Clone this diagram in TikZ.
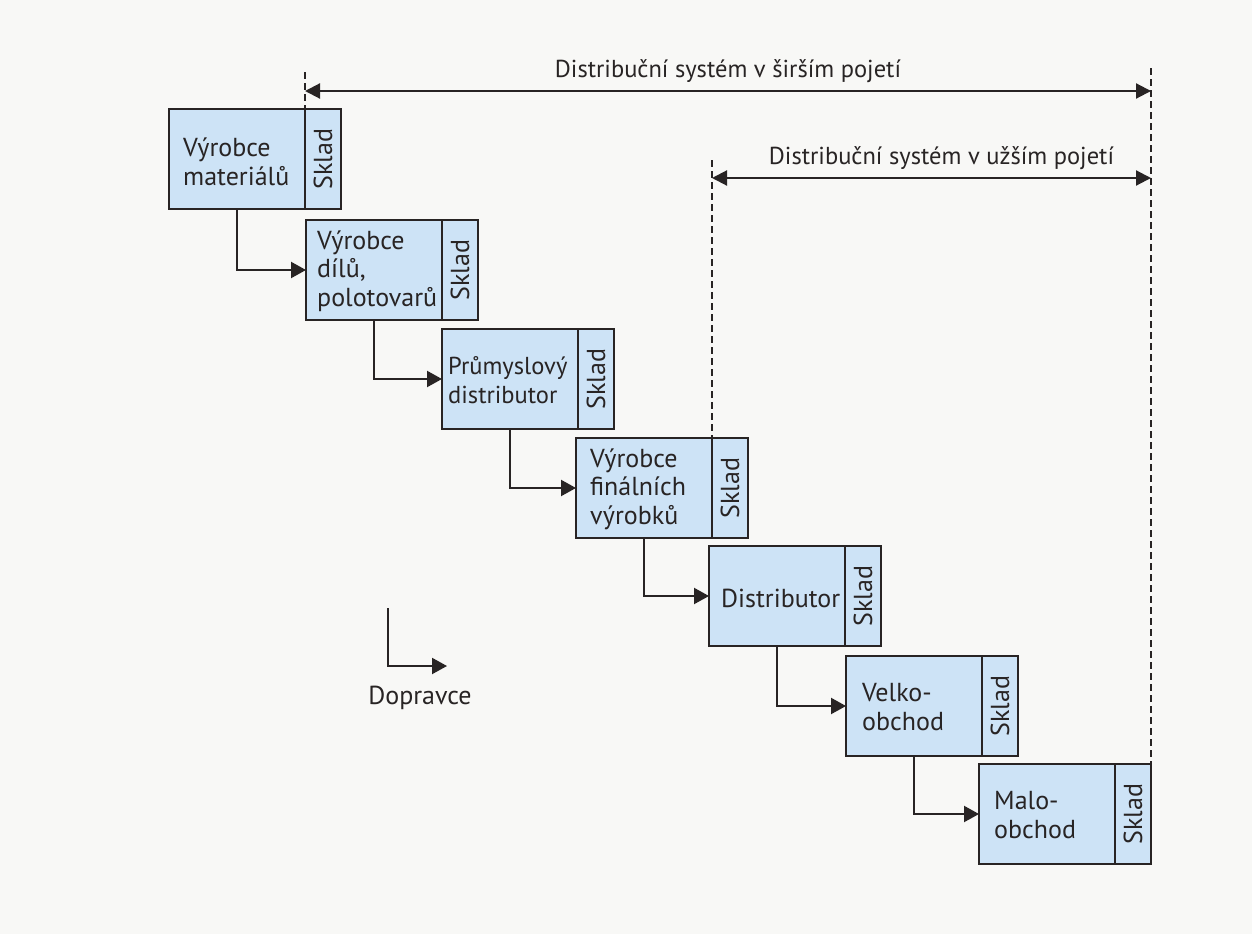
\documentclass[tikz,border=0pt]{standalone}
\usepackage{fontspec}
\setmainfont{PT Sans}
\usetikzlibrary{arrows.meta,calc}
\definecolor{boxfill}{RGB}{205,227,246}
\definecolor{ink}{RGB}{40,36,36}
\definecolor{bg}{RGB}{248,248,246}
\begin{document}
\begin{tikzpicture}[x=1pt,y=-1pt,
  stagebox/.style={draw=ink,line width=2.6pt,fill=boxfill,minimum width=136pt,minimum height=100pt,inner sep=0pt,anchor=north west,outer sep=0pt},
  skladbox/.style={draw=ink,line width=2.6pt,fill=boxfill,minimum width=36pt,minimum height=100pt,inner sep=0pt,anchor=north west,outer sep=0pt},
  stagetext/.style={align=left,font=\fontsize{26}{28.5}\selectfont,inner sep=0pt,text=ink,anchor=west},
  skladtext/.style={rotate=90,font=\fontsize{26}{28}\selectfont,inner sep=0pt,text=ink},
  conn/.style={draw=ink,line width=2.1pt,-{Triangle[length=15pt,width=16pt]}},
  dimline/.style={draw=ink,line width=2.1pt,{Triangle[length=15pt,width=15pt]}-{Triangle[length=15pt,width=15pt]}},
  guide/.style={draw=ink,line width=1.3pt,dash pattern=on 7pt off 4pt},
  toptext/.style={font=\fontsize{24.5}{28}\selectfont,inner sep=0pt,text=ink,anchor=south}
]
\fill[bg] (0,0) rectangle (1252,934);
\useasboundingbox (0,0) rectangle (1252,934);

% stages
\node[stagebox] (m1) at (169,109) {};
\node[skladbox] (s1) at (m1.north east) {};
\node[stagebox] (m2) at (306,220) {};
\node[skladbox] (s2) at (m2.north east) {};
\node[stagebox] (m3) at (442,329) {};
\node[skladbox] (s3) at (m3.north east) {};
\node[stagebox] (m4) at (576,438) {};
\node[skladbox] (s4) at (m4.north east) {};
\node[stagebox] (m5) at (709,546) {};
\node[skladbox] (s5) at (m5.north east) {};
\node[stagebox] (m6) at (846,656) {};
\node[skladbox] (s6) at (m6.north east) {};
\node[stagebox] (m7) at (979,764) {};
\node[skladbox] (s7) at (m7.north east) {};

\node[stagetext] at ($(m1.west)+(14,3)$) {Výrobce\\materiálů};
\node[stagetext] at ($(m2.west)+(11,1)$) {Výrobce\\dílů,\\polotovarů};
\node[stagetext,font=\fontsize{24.5}{28.5}\selectfont] at ($(m3.west)+(6,1)$) {Průmyslový\\distributor};
\node[stagetext] at ($(m4.west)+(14,1)$) {Výrobce\\finálních\\výrobků};
\node[stagetext] at ($(m5.west)+(12,2)$) {Distributor};
\node[stagetext] at ($(m6.west)+(16,1)$) {Velko-\\obchod};
\node[stagetext] at ($(m7.west)+(15,1)$) {Malo-\\obchod};

\foreach \i in {1,...,7}{\node[skladtext] at (s\i.center) {Sklad};}

% connectors
\draw[conn] (m1.south) |- (m2.west);
\draw[conn] (m2.south) |- (m3.west);
\draw[conn] (m3.south) |- (m4.west);
\draw[conn] (m4.south) |- (m5.west);
\draw[conn] (m5.south) |- (m6.west);
\draw[conn] (m6.south) |- (m7.west);

% guides
\coordinate (yA) at (0,91);
\coordinate (yB) at (0,178);
\coordinate (g1) at ($(m1.north east |- yA)+(0,-19)$);
\coordinate (g2) at ($(m4.north east |- yB)+(0,-18)$);
\coordinate (g3) at ($(s7.north east |- yA)+(0,-23)$);
\draw[guide] (g1) -- (m1.north east);
\draw[guide] (g2) -- (m4.north east);
\draw[guide] (g3) -- (s7.north east);
\draw[dimline] (m1.north east |- yA) -- (s7.north east |- yA);
\draw[dimline] (m4.north east |- yB) -- (s7.north east |- yB);
\node[toptext] (tA) at ($(m1.north east |- yA)!0.5!(s7.north east |- yA)+(0,-8)$) {Distribuční systém v širším pojetí};
\node[toptext] (tB) at ($(m4.north east |- yB)!0.5!(s7.north east |- yB)+(10,-8)$) {Distribuční systém v užším pojetí};

% legend
\coordinate (l0) at (388,608);
\coordinate (l1) at (447,666);
\draw[conn] (l0) |- (l1);
\node[stagetext,anchor=north] (leg) at (420,686) {Dopravce};
\end{tikzpicture}
\end{document}
